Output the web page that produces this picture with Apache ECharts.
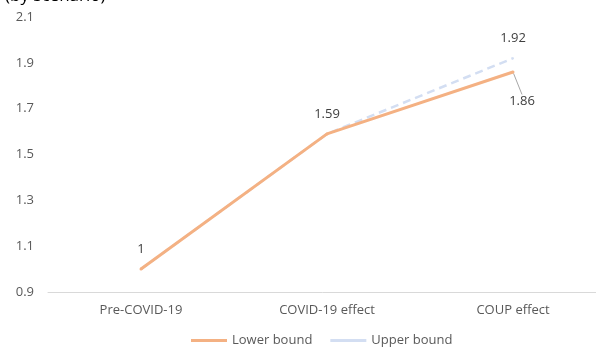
<!DOCTYPE html>
<html><head><meta charset="utf-8">
<script src="https://cdn.jsdelivr.net/npm/echarts@6/dist/echarts.min.js"></script>
<style>html,body{margin:0;padding:0;background:#fff}#c{width:596px;height:354px}</style>
</head><body><div id="c"></div>
<script>
const categories = ['Pre-COVID-19', 'COVID-19 effect', 'COUP effect'];
const lowerBound = [1, 1.59, 1.86];
const upperBound = [1, 1.59, 1.92];
const yTicks = [0.9, 1.1, 1.3, 1.5, 1.7, 1.9, 2.1];
const titleText = '(by scenario)';

const font = 'Open Sans, Liberation Sans, sans-serif';
const orange = '#F4B183', blue = '#D3DEF2';
const chart = echarts.init(document.getElementById('c'));

const labelBase = { show: true, position: 'top', distance: 12, fontFamily: font, fontSize: 13, color: '#404040' };

const lowerData = lowerBound.map((v, i) => i === lowerBound.length - 1
  ? { value: v, label: { show: true }, labelLine: { show: true, lineStyle: { color: '#A6A6A6', width: 1 } } }
  : { value: v });
const upperData = upperBound.map((v, i) => i === upperBound.length - 1
  ? { value: v, label: { show: true } }
  : { value: v, label: { show: false } });

chart.setOption({
  animation: false,
  title: { text: titleText, left: 0, top: -17, textStyle: { fontFamily: font, fontSize: 17, fontWeight: 'normal', color: '#000' } },
  grid: { left: 48, top: 17, width: 558, height: 275, outerBoundsMode: 'none', containLabel: false },
  legend: {
    bottom: 2, left: 186, itemWidth: 36, itemHeight: 3, itemGap: 18,
    textStyle: { fontFamily: font, fontSize: 13, color: '#595959' },
    data: [
      { name: 'Lower bound', icon: 'rect', itemStyle: { color: orange, opacity: 1 } },
      { name: 'Upper bound', icon: 'rect', itemStyle: { color: blue, opacity: 1 } }
    ]
  },
  xAxis: {
    type: 'category', data: categories, boundaryGap: true,
    axisLine: { lineStyle: { color: '#D9D9D9', width: 1 } },
    axisTick: { show: false },
    axisLabel: { fontFamily: font, fontSize: 13, color: '#595959', margin: 12 }
  },
  yAxis: {
    type: 'value', min: yTicks[0], max: yTicks[yTicks.length - 1], interval: 0.2,
    axisLine: { show: false }, axisTick: { show: false }, splitLine: { show: false },
    axisLabel: { fontFamily: font, fontSize: 13, color: '#595959', margin: 14, formatter: v => String(+v.toFixed(1)) }
  },
  series: [
    {
      name: 'Upper bound', type: 'line', data: upperData, symbol: 'circle', symbolSize: 2, showSymbol: true,
      itemStyle: { color: blue },
      lineStyle: { color: blue, width: 2.5, type: [8, 5] },
      label: Object.assign({}, labelBase, { formatter: p => String(p.value) }),
      z: 1
    },
    {
      name: 'Lower bound', type: 'line', data: lowerData, symbol: 'circle', symbolSize: 3, showSymbol: true,
      itemStyle: { color: orange },
      lineStyle: { color: orange, width: 3 },
      label: Object.assign({}, labelBase, { formatter: p => String(p.value) }),
      labelLayout: function (params) {
        if (params.dataIndex === lowerBound.length - 1) {
          return { x: params.rect.x + params.rect.width / 2 + 9, y: params.rect.y + 24, align: 'center' };
        }
      },
      z: 2
    }
  ]
});
</script></body></html>
